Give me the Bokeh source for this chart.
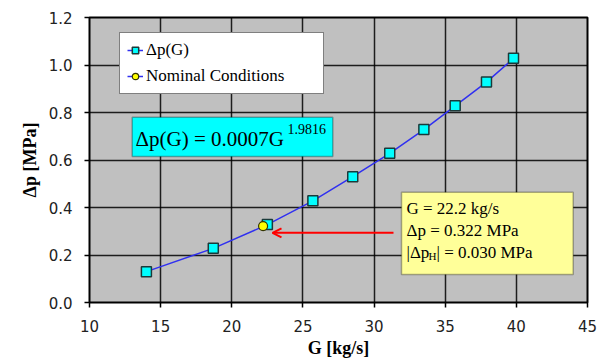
from bokeh.plotting import figure
from bokeh.models import (Legend, LegendItem, Label, BoxAnnotation, Arrow, OpenHead,
                          FixedTicker, PrintfTickFormatter)
from bokeh.embed import file_html
from bokeh.resources import INLINE

# ---- data ----
G = [14.0, 18.7, 22.5, 25.7, 28.5, 31.1, 33.5, 35.7, 37.9, 39.8]
dp = [0.130, 0.228, 0.328, 0.428, 0.530, 0.628, 0.728, 0.828, 0.928, 1.028]
G_nom = [22.2]
dp_nom = [0.322]
x_ticks = [10, 15, 20, 25, 30, 35, 40, 45]
y_ticks = [0.0, 0.2, 0.4, 0.6, 0.8, 1.0, 1.2]

# frame geometry (pixels) for annotation placement
L, R, T, B = 89, 587, 17, 302
X0, X1, Y0, Y1 = 10, 45, 0.0, 1.2
def fx(px):
    return X0 + (px - L) * (X1 - X0) / (R - L)
def fy(py):
    return Y0 + (B - py) * (Y1 - Y0) / (B - T)

SERIF = "Times New Roman"

p = figure(width=607, height=360, x_range=(X0, X1), y_range=(Y0, Y1),
           output_backend="svg", toolbar_location=None,
           min_border_left=L, min_border_right=607 - R, min_border_top=T,
           min_border_bottom=360 - B)
p.background_fill_color = "#C0C0C0"
p.border_fill_color = "white"
p.outline_line_color = "black"
p.outline_line_width = 2

for ax in (p.xaxis, p.yaxis):
    ax.axis_line_color = "black"
    ax.major_tick_line_color = "black"
    ax.major_tick_line_width = 1.5
    ax.minor_tick_line_color = None
    ax.major_tick_out = 5
    ax.major_tick_in = 0
    ax.major_label_text_font = "DejaVu Sans"
    ax.major_label_text_font_size = "15px"
    ax.major_label_text_color = "#222222"
    ax.axis_label_text_font = SERIF
    ax.axis_label_text_font_style = "bold"
    ax.axis_label_text_font_size = "18px"
    ax.axis_label_text_color = "black"

p.xaxis.ticker = FixedTicker(ticks=x_ticks)
p.yaxis.ticker = FixedTicker(ticks=y_ticks)
p.yaxis.formatter = PrintfTickFormatter(format="%.1f")
p.xaxis.major_label_standoff = 12
p.yaxis.major_label_standoff = 12
p.xaxis.axis_label = "G [kg/s]"
p.yaxis.axis_label = "Δp [MPa]"
p.xaxis.axis_label_standoff = 3
p.yaxis.axis_label_standoff = 6

p.xgrid.ticker = FixedTicker(ticks=x_ticks)
p.ygrid.ticker = FixedTicker(ticks=y_ticks)
for g in (p.xgrid, p.ygrid):
    g.grid_line_color = "black"
    g.grid_line_width = 1.5
    g.grid_line_alpha = 0.85

# series
ln = p.line(G, dp, line_color="#3030F0", line_width=1.5)
sq = p.scatter(G, dp, marker="square", size=10, fill_color="cyan",
               line_color="#1a3a3a", line_width=1.5)
nom_ln = p.line(G_nom, dp_nom, line_color="#3030F0", line_width=1.5)
yc = p.scatter(G_nom, dp_nom, marker="circle", size=9, fill_color="yellow",
               line_color="#333300", line_width=1.2)

legend = Legend(items=[LegendItem(label="Δp(G)", renderers=[ln, sq]),
                       LegendItem(label="Nominal Conditions", renderers=[nom_ln, yc])],
                location=(119 - L, B - 94),
                label_text_font=SERIF, label_text_font_size="17px",
                label_text_color="black", glyph_width=16, glyph_height=20,
                label_height=20, spacing=6, padding=7, margin=0,
                label_width=170, label_standoff=3,
                border_line_color="black", border_line_width=1.5,
                background_fill_color="white", background_fill_alpha=1)
p.add_layout(legend)

# equation box
p.add_layout(BoxAnnotation(left=fx(131.7), right=fx(332.3), top=fy(116.7), bottom=fy(156),
                           fill_color="cyan", fill_alpha=1, line_color="black", line_width=1.5))
p.add_layout(Label(x=fx(135), y=fy(138), text="Δp(G) = 0.0007G",
                   text_font=SERIF, text_font_size="21px",
                   text_baseline="middle", text_color="black"))
p.add_layout(Label(x=fx(287), y=fy(128), text="1.9816",
                   text_font=SERIF, text_font_size="14px",
                   text_baseline="middle", text_color="black"))

# info box
p.add_layout(BoxAnnotation(left=fx(401), right=fx(572.7), top=fy(191.7), bottom=fy(274),
                           fill_color="#FFFF99", fill_alpha=1, line_color="black", line_width=1.5))
info_font = dict(text_font=SERIF, text_font_size="17px",
                 text_baseline="middle", text_color="black")
p.add_layout(Label(x=fx(406), y=fy(208), text="G = 22.2 kg/s", **info_font))
p.add_layout(Label(x=fx(406), y=fy(230), text="Δp = 0.322 MPa", **info_font))
p.add_layout(Label(x=fx(406), y=fy(252), text="|Δp", **info_font))
p.add_layout(Label(x=fx(428), y=fy(255), text="H", text_font=SERIF,
                   text_font_size="11px", text_baseline="middle", text_color="black"))
p.add_layout(Label(x=fx(436), y=fy(252), text="| = 0.030 MPa", **info_font))

# arrow
p.add_layout(Arrow(end=OpenHead(size=9, line_color="red", line_width=2),
                   x_start=fx(393), y_start=fy(232.3), x_end=fx(272), y_end=fy(232.3),
                   line_color="red", line_width=2))

open("out.html", "w").write(file_html(p, INLINE))
